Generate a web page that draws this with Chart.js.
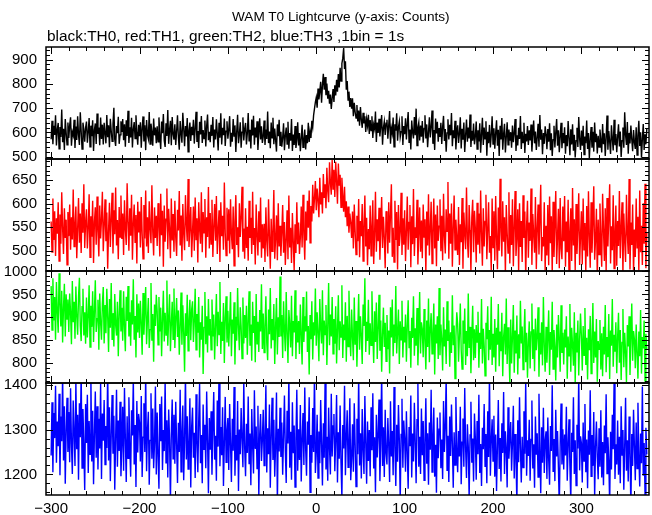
<!DOCTYPE html>
<html>
<head>
<meta charset="utf-8">
<title>WAM T0 Lightcurve</title>
<script src="https://cdn.jsdelivr.net/npm/chart.js@4.4.1/dist/chart.umd.min.js"></script>
<style>
    html, body { margin: 0; padding: 0; background: #fff; }
    #wrap { position: relative; width: 652px; height: 515px; font-family: "Liberation Sans", Arial, Helvetica, sans-serif; color: #000; }
    #title { position: absolute; left: 232px; top: 9px; font-size: 13.6px; white-space: nowrap; }
    #subtitle { position: absolute; left: 47px; top: 27px; font-size: 15.4px; white-space: nowrap; }
    #lc { position: absolute; left: 0; top: 0; }
</style>
</head>
<body>
<div id="wrap">
    <canvas id="lc" width="652" height="515"></canvas>
    <div id="title">WAM T0 Lightcurve (y-axis: Counts)</div>
    <div id="subtitle">black:TH0, red:TH1, green:TH2, blue:TH3 ,1bin = 1s</div>
</div>
<script>
// ==============================================
// DATA - 1 s bins starting at T_START
// ==============================================
const T_START = -300;
const X_MIN = -305.8;
const X_MAX = 376.5;

// black: TH0
const TH0 = [
    572,648,551,627,590,671,546,612,639,533,622,581,694,560,615,528,655,598,549,641,
    577,630,662,545,601,587,652,536,624,569,667,591,548,683,606,531,640,613,562,619,
    645,558,603,659,541,628,584,650,524,611,637,552,678,594,620,547,661,573,632,550,
    640,596,555,672,580,629,539,656,607,563,635,702,571,544,626,597,664,553,590,646,
    602,655,568,634,541,650,585,689,557,621,579,660,538,614,643,575,671,598,549,631,
    584,642,537,618,666,563,629,527,651,590,574,684,552,636,601,545,657,588,620,556,
    625,561,662,583,532,645,597,676,566,540,638,585,692,553,611,648,547,663,593,570,
    634,548,606,671,579,529,647,595,558,681,617,543,626,583,659,520,609,641,565,623,
    589,652,554,617,685,561,606,536,644,592,668,557,610,575,649,542,627,674,568,603,
    560,631,586,663,538,612,571,654,596,526,640,578,679,550,619,589,657,544,605,646,
    574,613,667,541,598,562,655,585,629,519,604,673,556,590,642,537,601,662,567,615,
    639,550,596,680,566,611,534,653,587,669,549,620,579,646,528,600,658,571,625,557,
    582,649,548,612,573,686,556,604,535,641,578,660,551,616,569,521,633,584,652,547,
    603,541,579,638,527,586,620,552,644,533,597,566,655,524,591,548,626,536,570,642,
    546,598,523,575,631,539,568,612,530,589,556,640,561,603,577,648,622,671,698,725,
    744,702,781,736,768,809,722,795,842,776,828,753,801,739,772,718,756,697,741,779,
    726,794,752,817,768,841,785,866,812,884,905,948,861,893,776,812,733,768,705,742,
    698,741,667,722,684,659,713,645,690,628,705,652,619,681,637,666,602,655,628,673,
    594,651,608,667,577,632,615,686,561,641,598,656,583,627,672,549,619,645,590,638,
    652,574,629,688,553,617,596,661,541,634,607,679,566,622,645,580,603,667,548,626,
    593,658,571,636,684,559,612,530,649,601,575,663,588,698,546,620,641,567,628,582,
    647,558,616,671,575,633,539,601,662,579,624,690,553,610,528,657,596,644,562,618,
    581,640,552,623,668,565,614,521,598,654,571,631,588,680,543,609,576,648,530,601,
    629,557,596,662,534,615,570,641,519,588,653,562,620,575,674,540,607,566,637,551,
    583,645,531,609,563,638,516,592,660,548,620,574,646,504,603,556,631,538,590,667,
    552,617,533,598,650,545,611,503,627,571,659,529,593,636,517,580,642,549,612,566,
    601,537,628,560,597,655,524,588,546,619,573,668,532,603,558,640,515,594,563,626,
    548,609,567,633,521,590,649,555,604,528,579,636,541,672,570,612,510,597,553,625,
    593,531,614,562,638,527,596,503,570,627,538,601,655,545,609,518,584,640,535,597,
    556,621,512,589,543,647,578,506,613,550,634,525,590,497,566,619,540,663,574,528,
    608,545,627,509,583,556,649,532,598,494,571,622,537,603,521,641,560,594,513,586,
    540,612,569,517,635,551,597,503,578,670,529,606,562,511,629,574,526,652,547,593,
    518,581,634,542,604,499,566,620,537,683,589,548,643,512,598,555,628,571,523,610,
    559,532,621,507,586,648,544,601,496,573,635,528,592,551,614
];

// red: TH1
const TH1 = [
    562,497,611,523,584,489,569,536,603,478,577,515,624,548,493,590,527,566,470,582,
    531,598,502,571,524,630,509,553,594,484,546,612,517,579,495,601,538,641,506,560,
    588,505,549,620,486,573,530,606,474,561,592,513,615,540,488,596,526,567,625,499,
    554,609,520,581,462,543,602,508,570,623,494,586,535,634,511,565,482,593,529,617,
    525,579,491,607,546,512,643,561,500,590,532,619,481,558,598,518,576,473,604,539,
    583,507,614,536,483,597,526,628,509,571,495,605,547,516,639,541,490,592,527,574,
    510,601,552,488,621,533,585,466,596,519,567,632,503,589,545,484,611,522,578,498,
    606,528,489,587,543,627,511,575,479,599,537,501,618,558,520,652,508,549,593,486,
    540,594,500,613,524,569,475,603,546,515,624,497,582,538,610,485,571,529,635,505,
    580,514,608,487,550,599,521,616,493,545,586,476,603,531,574,502,645,538,490,591,
    521,588,494,609,535,503,594,468,561,618,512,550,486,601,529,573,636,498,547,483,
    590,506,551,479,606,527,570,493,625,512,548,471,598,533,490,584,518,613,485,556,
    505,557,476,592,520,488,609,531,462,568,499,542,629,483,526,575,480,601,509,553,
    489,538,597,496,561,470,523,586,482,617,507,549,474,580,519,458,556,495,603,514,
    560,493,528,594,507,619,534,481,583,522,606,549,628,517,595,562,640,579,611,648,
    586,632,607,571,655,598,624,579,663,612,641,590,676,627,603,688,645,619,693,631,
    672,614,689,648,600,685,638,661,592,655,617,583,636,571,605,552,594,538,579,560,
    527,583,505,598,541,492,574,520,610,486,563,531,599,478,552,617,509,570,469,546,
    503,596,489,552,607,472,534,625,498,567,520,591,481,545,614,506,572,528,463,584,
    555,494,603,517,578,641,487,549,476,606,523,582,460,597,510,538,623,491,569,513,
    586,478,541,615,502,560,597,465,573,514,631,489,550,527,608,471,536,592,498,564,
    484,598,529,567,452,583,511,620,490,546,604,473,539,611,505,577,467,596,521,552,
    609,499,574,480,621,530,494,588,541,646,483,579,515,600,466,547,617,502,566,525,
    491,593,470,556,518,612,462,581,537,503,634,526,485,597,544,455,570,608,497,585,
    548,475,602,513,579,494,628,536,468,590,509,562,619,482,545,603,496,531,459,611,
    507,584,479,616,526,461,592,500,653,541,488,605,519,571,450,597,538,495,624,473,
    576,512,609,467,549,627,489,530,588,455,601,508,563,476,618,527,583,442,554,606,
    485,560,521,632,470,578,535,496,614,461,547,598,492,566,640,478,529,509,603,458,
    553,490,597,469,615,516,573,452,604,487,556,627,472,530,589,463,612,505,482,594,
    520,616,466,562,497,608,445,541,590,478,633,511,567,459,599,493,548,622,470,531,
    584,471,611,502,559,453,595,488,626,530,464,603,496,560,637,481,524,589,440,566,
    492,600,525,466,621,545,478,590,455,612,509,571,641,473,552,501,618,462,537,596,
    468,563,510,627,484,548,603,449,579,521,476,619,535,493,652,460,560,512,598,451,
    545,487,611,506,572,458,628,497,553,470,601,515,642,463,539
];

// green: TH2
const TH2 = [
    968,872,985,893,944,851,977,912,866,996,931,880,958,845,921,973,858,950,896,939,
    868,952,910,841,979,889,934,853,967,902,862,945,986,881,848,923,962,860,911,842,
    943,856,904,970,835,925,879,957,846,913,981,868,897,938,829,952,888,851,930,966,
    843,927,865,962,901,824,940,877,975,852,909,836,951,883,860,934,815,906,959,869,
    921,849,957,878,826,945,892,968,858,911,838,937,884,983,851,903,812,950,867,930,
    855,936,887,818,953,862,914,966,841,896,942,833,873,975,849,907,803,928,881,949,
    913,840,944,869,921,815,897,958,847,910,861,980,838,898,950,826,884,934,852,963,
    833,899,942,857,915,818,881,954,840,926,867,781,909,859,949,827,892,938,850,917,
    935,846,893,962,829,907,866,944,812,889,851,925,776,878,955,841,902,823,940,860,
    896,829,939,858,906,808,882,951,837,912,862,977,820,890,848,931,800,899,946,845,
    914,836,888,955,815,895,864,933,797,901,849,964,877,828,922,880,810,943,843,905,
    855,925,818,892,957,838,884,805,934,866,903,802,951,842,890,824,916,869,972,831,
    908,823,880,946,844,806,917,863,964,832,896,850,929,798,879,942,819,900,857,989,
    858,905,811,935,871,826,955,864,800,916,883,834,947,815,892,867,959,809,904,845,
    892,820,928,861,797,944,846,902,869,956,824,881,775,905,852,935,808,889,860,963,
    838,911,866,804,940,875,843,959,817,893,862,927,796,881,975,839,906,858,944,820,
    896,842,924,799,873,948,828,891,857,970,811,884,850,933,803,903,836,958,862,815,
    917,857,806,943,840,892,792,870,951,829,902,861,798,928,881,985,824,890,848,938,
    818,887,839,957,866,800,913,846,932,809,876,949,827,893,781,862,921,835,888,804,
    905,830,871,777,922,856,939,815,884,844,968,821,869,917,798,891,851,936,812,879,
    845,906,803,881,937,834,870,790,899,855,946,816,876,838,920,795,862,955,821,889,
    874,813,918,852,786,893,835,941,802,876,909,820,861,930,775,884,843,902,809,964,
    817,884,851,784,922,836,873,798,935,848,893,792,867,822,948,839,882,766,857,911,
    886,803,861,930,829,787,893,842,919,796,870,815,952,833,879,778,858,925,806,874,
    811,883,846,912,790,866,831,940,799,875,838,772,888,852,924,806,872,829,945,796,
    864,812,896,781,877,840,929,793,869,826,910,771,857,886,819,941,798,878,835,755,
    895,799,858,927,779,871,821,904,775,863,810,936,843,880,786,857,918,802,866,768,
    846,891,788,868,930,809,874,782,897,828,859,922,770,866,819,889,795,944,840,781,
    879,801,856,915,774,868,829,934,787,872,836,762,884,812,905,853,781,926,822,866,
    797,873,834,902,766,858,816,929,781,877,840,794,911,757,866,823,893,773,852,908,
    860,784,881,817,920,796,855,764,874,828,903,777,850,931,800,869,812,896,759,848,
    830,894,786,865,771,879,819,927,780,857,813,907,765,871,838,940,792,862,825,889,
    778,856,910,801,872,763,845,918,791,866,824,758,883,836,902,774,853,930,805,870,
    852,789,884,823,766,869,815,916,777,857,832,893,761,864,829
];

// blue: TH3
const TH3 = [
    1242,1361,1205,1337,1281,1398,1226,1318,1263,1380,1198,1329,1274,1425,1231,1352,1179,1297,1371,1250,
    1339,1227,1392,1268,1201,1365,1294,1219,1410,1256,1333,1188,1359,1283,1431,1214,1346,1262,1165,1357,
    1270,1378,1203,1319,1245,1416,1229,1342,1178,1291,1385,1237,1352,1211,1324,1258,1403,1190,1336,1275,
    1366,1222,1308,1259,1437,1231,1350,1185,1288,1377,1246,1331,1166,1279,1389,1217,1320,1252,1362,1196,
    1264,1351,1208,1393,1280,1183,1330,1236,1372,1261,1195,1343,1287,1414,1222,1310,1172,1364,1249,1335,
    1316,1229,1375,1194,1283,1359,1250,1426,1207,1298,1340,1177,1276,1381,1235,1347,1214,1270,1396,1200,
    1338,1241,1168,1357,1274,1374,1210,1299,1252,1411,1226,1321,1193,1345,1279,1140,1291,1367,1235,1333,
    1224,1362,1268,1181,1315,1250,1389,1206,1290,1354,1187,1277,1423,1233,1330,1212,1265,1370,1171,1305,
    1349,1237,1293,1192,1379,1270,1205,1318,1402,1225,1288,1180,1356,1256,1311,1214,1385,1275,1158,1326,
    1255,1341,1199,1301,1384,1233,1286,1186,1365,1262,1435,1218,1306,1243,1350,1174,1272,1373,1227,1297,
    1326,1210,1357,1266,1183,1324,1253,1395,1197,1288,1231,1364,1163,1300,1245,1348,1279,1216,1409,1260,
    1196,1313,1248,1374,1224,1291,1176,1346,1265,1202,1388,1257,1307,1213,1353,1150,1289,1335,1230,1276,
    1344,1220,1281,1399,1204,1303,1245,1356,1170,1285,1371,1232,1322,1195,1264,1383,1135,1302,1251,1349,
    1239,1316,1199,1287,1376,1252,1181,1342,1269,1420,1215,1295,1188,1361,1247,1309,1172,1280,1389,1208,
    1301,1232,1355,1184,1279,1337,1221,1394,1258,1197,1318,1266,1372,1160,1288,1226,1348,1250,1432,1203,
    1249,1333,1192,1296,1225,1366,1268,1175,1314,1237,1410,1211,1284,1186,1349,1259,1200,1380,1240,1308,
    1335,1207,1278,1377,1182,1294,1235,1354,1226,1148,1310,1258,1398,1198,1285,1343,1216,1269,1370,1187,
    1236,1312,1206,1359,1267,1173,1324,1245,1421,1220,1292,1191,1346,1255,1201,1375,1271,1179,1318,1230,
    1299,1196,1350,1254,1381,1213,1283,1160,1333,1238,1290,1367,1185,1270,1430,1219,1305,1194,1344,1246,
    1222,1326,1265,1183,1363,1240,1297,1198,1395,1262,1174,1311,1228,1355,1276,1139,1289,1369,1215,1320,
    1279,1206,1341,1250,1168,1306,1263,1376,1193,1291,1229,1360,1273,1180,1322,1404,1217,1284,1201,1347,
    1243,1319,1187,1270,1370,1224,1292,1177,1316,1255,1389,1205,1281,1349,1195,1266,1159,1327,1236,1301,
    1338,1214,1278,1190,1364,1250,1305,1417,1209,1286,1183,1329,1241,1356,1268,1170,1294,1221,1373,1257,
    1205,1297,1240,1351,1178,1272,1325,1217,1393,1259,1192,1312,1263,1146,1288,1362,1226,1280,1184,1336,
    1282,1188,1319,1245,1378,1203,1268,1174,1304,1256,1357,1218,1290,1180,1341,1239,1426,1197,1275,1323,
    1230,1331,1195,1289,1163,1264,1366,1212,1281,1184,1314,1248,1384,1201,1296,1257,1171,1350,1235,1279,
    1317,1208,1270,1353,1191,1290,1238,1133,1321,1227,1372,1259,1182,1284,1215,1341,1246,1408,1197,1276,
    1241,1322,1186,1278,1365,1213,1267,1170,1329,1244,1292,1194,1380,1255,1158,1305,1226,1349,1203,1275,
    1296,1190,1327,1233,1177,1308,1252,1399,1207,1279,1185,1344,1240,1297,1216,1127,1268,1358,1222,1301,
    1211,1289,1242,1351,1186,1266,1323,1220,1141,1293,1250,1372,1201,1276,1175,1311,1258,1420,1209,1285,
    1270,1182,1316,1230,1357,1205,1278,1169,1298,1244,1388,1196,1288,1219,1339,1150,1262,1318,1237,1189,
    1303,1217,1343,1193,1272,1176,1309,1247,1379,1202,1283,1232,1132,1295,1211,1333,1256,1405,1190,1267,
    1222,1320,1199,1284,1180,1352,1243,1299,1166,1263,1371,1208,1276,1184,1329,1249,1124,1290,1219,1344,
    1263,1187,1316,1213,1360,1242,1173,1291,1225,1396,1197,1270,1155,1304,1245
];

// panel setup, top to bottom
const SERIES = [TH0, TH1, TH2, TH3];
const COLORS = ['#000000', '#ff0000', '#00ff00', '#0000ff'];
const Y_MIN = [490.5, 457, 756.5, 1154];
const Y_MAX = [952, 694.7, 1001, 1404];
const Y_MAJOR = [100, 50, 50, 100];
const Y_MINOR = [20, 10, 10, 20];
const X_MAJOR = 100;
const X_MINOR = 20;

const FONT = { family: '"Liberation Sans", Arial, Helvetica, sans-serif', size: 15 };

document.addEventListener('DOMContentLoaded', function() {
    initChart();
});

function toPoints(arr) {
    return arr.map((v, i) => ({ x: T_START + i, y: v }));
}

// frame + inward ticks for each panel
const framePlugin = {
    id: 'frame',
    afterDatasetsDraw(chart) {
        const ctx = chart.ctx;
        const area = chart.chartArea;
        const xs = chart.scales.x;
        ctx.save();
        ctx.strokeStyle = '#000';
        ctx.lineWidth = 1;

        function seg(x1, y1, x2, y2) {
            ctx.beginPath();
            ctx.moveTo(x1, y1);
            ctx.lineTo(x2, y2);
            ctx.stroke();
        }

        SERIES.forEach((s, p) => {
            const ys = chart.scales['y' + p];
            const top = ys.top;
            const bot = ys.bottom;

            // x ticks top and bottom
            for (let v = Math.ceil(X_MIN / X_MINOR) * X_MINOR; v <= X_MAX; v += X_MINOR) {
                const px = Math.round(xs.getPixelForValue(v)) + 0.5;
                const len = v % X_MAJOR === 0 ? 7 : 4;
                seg(px, top, px, top + len);
                seg(px, bot, px, bot - len);
            }
            // y ticks left and right
            const step = Y_MINOR[p];
            for (let v = Math.ceil(Y_MIN[p] / step) * step; v <= Y_MAX[p]; v += step) {
                const py = Math.round(ys.getPixelForValue(v)) + 0.5;
                const len = v % Y_MAJOR[p] === 0 ? 7 : 4;
                seg(area.left, py, area.left + len, py);
                seg(area.right, py, area.right - len, py);
            }

            ctx.lineWidth = 1.5;
            ctx.strokeRect(area.left, top, area.right - area.left, bot - top);
            ctx.lineWidth = 1;
        });
        ctx.restore();
    }
};

function initChart() {
    const el = document.getElementById('lc');
    if (!el || typeof Chart === 'undefined') return;

    const datasets = SERIES.map((s, p) => ({
        label: 'TH' + p,
        data: toPoints(s),
        yAxisID: 'y' + p,
        borderColor: COLORS[p],
        borderWidth: 1.4,
        pointRadius: 0,
        tension: 0,
        fill: false
    }));

    const scales = {
        x: {
            type: 'linear',
            position: 'bottom',
            min: X_MIN,
            max: X_MAX,
            grid: { display: false, drawTicks: false },
            border: { display: false },
            ticks: {
                stepSize: X_MAJOR,
                includeBounds: false,
                autoSkip: false,
                maxRotation: 0,
                padding: 5,
                color: '#000',
                font: FONT,
                callback: v => String(v).replace('-', '\u2212')
            },
            afterFit: s => { s.height = 20; }
        }
    };

    // last defined scale goes on top of the stack
    for (let p = SERIES.length - 1; p >= 0; p--) {
        scales['y' + p] = {
            type: 'linear',
            position: 'left',
            stack: 'panels',
            stackWeight: 1,
            min: Y_MIN[p],
            max: Y_MAX[p],
            grid: { display: false, drawTicks: false },
            border: { display: false },
            ticks: {
                stepSize: Y_MAJOR[p],
                includeBounds: false,
                autoSkip: false,
                padding: 9,
                color: '#000',
                font: FONT,
                callback: v => String(v)
            },
            afterFit: s => { s.width = 46; }
        };
    }

    try {
        new Chart(el, {
            type: 'line',
            data: { datasets: datasets },
            options: {
                responsive: false,
                animation: false,
                layout: { padding: { left: 0, right: 3, top: 47, bottom: 0 } },
                plugins: {
                    legend: { display: false },
                    tooltip: { enabled: false },
                    title: { display: false }
                },
                scales: scales
            },
            plugins: [framePlugin]
        });
    } catch (error) {
        console.error('Chart error:', error);
    }
}
</script>
</body>
</html>
